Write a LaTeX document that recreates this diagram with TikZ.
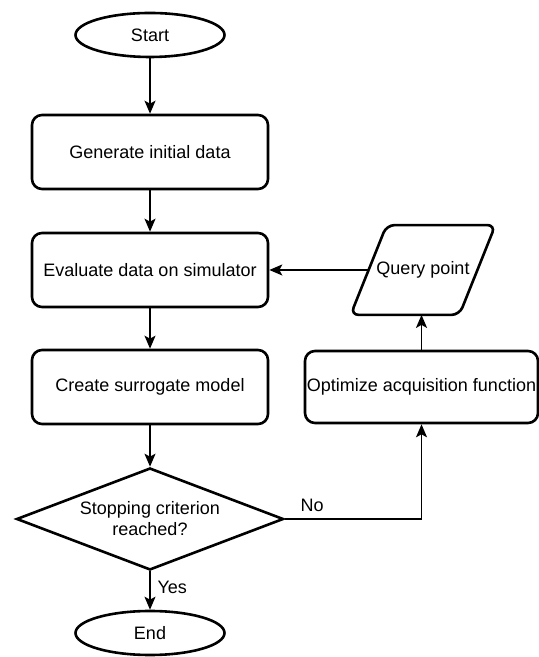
\documentclass[tikz,border=0pt]{standalone}
\usepackage{fontspec}
\setmainfont{Liberation Sans}
\usepackage{tikz}
\usetikzlibrary{calc,shapes.geometric,arrows.meta}

\begin{document}
\begin{tikzpicture}[x=0.5pt, y=0.5pt,
		font=\fontsize{9}{10.5}\selectfont,
		terminal/.style={draw, ellipse, line width=1.3pt, minimum width=74.5pt, minimum height=22pt, inner sep=0pt},
		process/.style={draw, rectangle, rounded corners=5pt, line width=1.3pt, minimum width=118pt, minimum height=37pt, inner sep=0pt},
		decision/.style={draw, diamond, aspect=2.6, line width=1.3pt, minimum width=133.5pt, minimum height=51pt, inner sep=0pt, align=center},
		inout/.style={rectangle, minimum width=54pt, minimum height=44.5pt, inner sep=0pt},
		outline/.style={line width=1.3pt, rounded corners=4pt},
		flow/.style={line width=0.85pt, -{Stealth[length=6.5pt, width=5.5pt, inset=1.5pt]}}]
		%%%%% START %%%%%
		
		\useasboundingbox (0, 0) rectangle (538, 657);
		
		\node[terminal] (start) at (150, 622) {Start};
		\node[process] (gen) at (150, 505) {Generate initial data};
		\node[process] (eval) at (150, 387) {Evaluate data on simulator};
		\node[process] (surr) at (150, 270) {Create surrogate model};
		\node[decision] (stop) at (150, 138) {Stopping criterion\\reached?};
		\node[terminal] (end) at (150, 24) {End};
		
		\node[process, minimum width=116.5pt, minimum height=36pt] (opt) at (421.5, 270) {Optimize acquisition function};
		\node[inout] (query) at (423, 387) {Query point};
		\draw[outline] ($(query.south west)+(-18, 0)$) -- ($(query.south east)+(-18, 0)$)
			-- ($(query.north east)+(18, 0)$) -- ($(query.north west)+(18, 0)$) -- cycle;
		
		\draw[flow] (start) -- (gen);
		\draw[flow] (gen) -- (eval);
		\draw[flow] (eval) -- (surr);
		\draw[flow] (surr) -- (stop);
		\draw[flow] (stop) -- node[right, pos=0.42] {Yes} (end);
		
		\draw[flow] (stop.east) -| node[pos=0.1, above] {No} (opt.south);
		\draw[flow] (opt) -- (opt |- query.south);
		\draw[flow] (query) -- (eval);
		
		%%%%% END %%%%%
\end{tikzpicture}
\end{document}
